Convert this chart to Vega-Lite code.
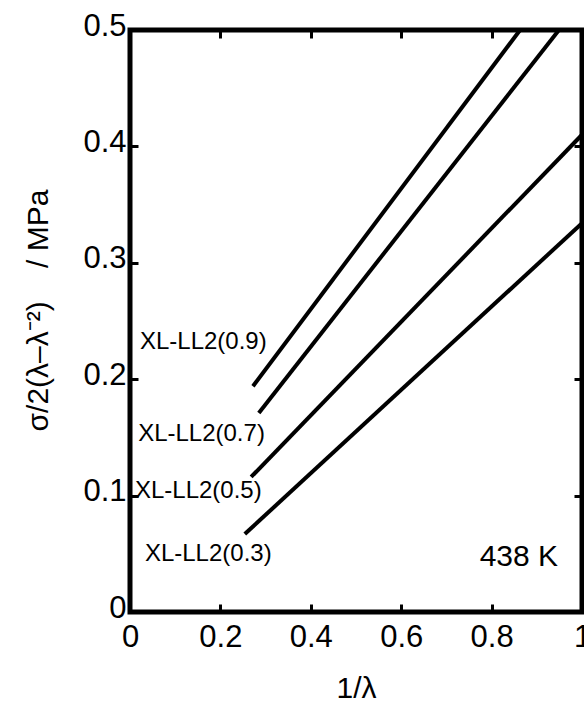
{
  "$schema": "https://vega.github.io/schema/vega-lite/v6.json",
  "width": 452,
  "height": 582,
  "autosize": {"type": "none"},
  "padding": {"left": 130, "top": 30, "right": 2, "bottom": 90},
  "background": "white",
  "config": {
    "font": "Liberation Sans",
    "view": {"stroke": "black", "strokeWidth": 5},
    "axis": {
      "domain": false,
      "grid": false,
      "tickColor": "black",
      "tickWidth": 3,
      "tickSize": -8,
      "labelColor": "black",
      "labelFont": "Liberation Sans",
      "labelFontSize": 31,
      "titleColor": "black",
      "titleFont": "Liberation Sans",
      "titleFontWeight": "normal"
    }
  },
  "datasets": {
    "lines": [
      {"series": "XL-LL2(0.9)", "inv_lambda": 0.272, "stress": 0.194},
      {"series": "XL-LL2(0.9)", "inv_lambda": 0.863, "stress": 0.5},
      {"series": "XL-LL2(0.7)", "inv_lambda": 0.285, "stress": 0.171},
      {"series": "XL-LL2(0.7)", "inv_lambda": 0.949, "stress": 0.5},
      {"series": "XL-LL2(0.5)", "inv_lambda": 0.268, "stress": 0.116},
      {"series": "XL-LL2(0.5)", "inv_lambda": 1.0, "stress": 0.41},
      {"series": "XL-LL2(0.3)", "inv_lambda": 0.254, "stress": 0.067},
      {"series": "XL-LL2(0.3)", "inv_lambda": 1.0, "stress": 0.334}
    ],
    "labels": [
      {"label": "XL-LL2(0.9)", "inv_lambda": 0.022, "stress": 0.232},
      {"label": "XL-LL2(0.7)", "inv_lambda": 0.018, "stress": 0.153},
      {"label": "XL-LL2(0.5)", "inv_lambda": 0.011, "stress": 0.104},
      {"label": "XL-LL2(0.3)", "inv_lambda": 0.033, "stress": 0.05}
    ],
    "temperature": [
      {"label": "438 K", "inv_lambda": 0.947, "stress": 0.047}
    ]
  },
  "layer": [
    {
      "data": {"name": "lines"},
      "mark": {"type": "line", "color": "black", "strokeWidth": 4, "clip": true},
      "encoding": {
        "x": {
          "field": "inv_lambda", "type": "quantitative",
          "scale": {"domain": [0, 1], "nice": false, "zero": false},
          "axis": {
            "orient": "bottom",
            "values": [0, 0.2, 0.4, 0.6, 0.8, 1],
            "format": "~g",
            "labelPadding": 18,
            "labelFlush": false,
            "title": "1/λ",
            "titleFontSize": 30,
            "titleBaseline": "alphabetic",
            "titleY": 85
          }
        },
        "y": {
          "field": "stress", "type": "quantitative",
          "scale": {"domain": [0, 0.5], "nice": false, "zero": false},
          "axis": {
            "orient": "left",
            "values": [0, 0.1, 0.2, 0.3, 0.4, 0.5],
            "format": "~g",
            "labelPadding": 12,
            "labelOffset": -4,
            "labelFlush": false,
            "title": "σ/2(λ–λ⁻²)\u00a0\u00a0\u00a0 / MPa",
            "titleFontSize": 30,
            "titleAngle": -90,
            "titleBaseline": "middle",
            "titleX": -92,
            "titleY": 280
          }
        },
        "detail": {"field": "series"}
      }
    },
    {
      "data": {"name": "lines"},
      "mark": {"type": "point", "opacity": 0},
      "encoding": {
        "x": {
          "field": "inv_lambda", "type": "quantitative",
          "axis": {"orient": "top", "values": [0.2, 0.4, 0.6, 0.8], "labels": false, "title": null}
        },
        "y": {
          "field": "stress", "type": "quantitative",
          "axis": {"orient": "right", "values": [0.1, 0.2, 0.3, 0.4], "labels": false, "title": null}
        }
      }
    },
    {
      "data": {"name": "labels"},
      "mark": {"type": "text", "align": "left", "baseline": "middle", "fontSize": 24, "font": "Liberation Sans", "color": "black"},
      "encoding": {
        "x": {"field": "inv_lambda", "type": "quantitative", "axis": null},
        "y": {"field": "stress", "type": "quantitative", "axis": null},
        "text": {"field": "label"}
      }
    },
    {
      "data": {"name": "temperature"},
      "mark": {"type": "text", "align": "right", "baseline": "middle", "fontSize": 30, "font": "Liberation Sans", "color": "black"},
      "encoding": {
        "x": {"field": "inv_lambda", "type": "quantitative", "axis": null},
        "y": {"field": "stress", "type": "quantitative", "axis": null},
        "text": {"field": "label"}
      }
    }
  ],
  "resolve": {"axis": {"x": "independent", "y": "independent"}}
}
